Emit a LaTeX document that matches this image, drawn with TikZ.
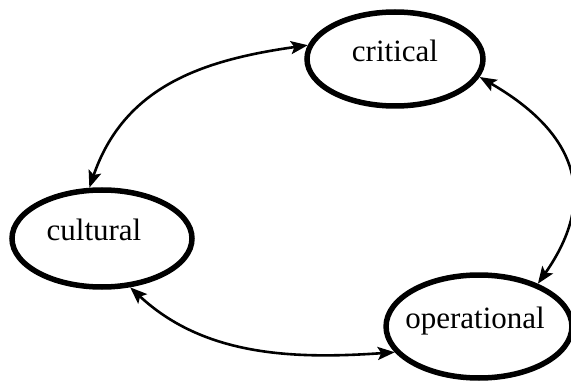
\documentclass[tikz,border=0pt]{standalone}
\usepackage{fontspec}
\setmainfont{Liberation Serif}
\usetikzlibrary{arrows.meta,shapes.geometric}

\tikzset{
  phase/.style={ellipse, draw=black, line width=5.5pt, inner sep=0pt,
    font=\fontsize{31}{36}\selectfont, text height=1ex, text depth=0pt},
  link/.style={line width=2.6pt, {Stealth[length=17pt,width=13pt,inset=3.5pt]}-{Stealth[length=17pt,width=13pt,inset=3.5pt]}}
}

\begin{document}
\begin{tikzpicture}[x=1pt,y=1pt]
  \useasboundingbox (0,0) rectangle (571,381);

  % the three phases
  \node[phase, minimum width=176pt, minimum height=94pt]  (crit) at (395,322)   {critical};
  \node[phase, minimum width=180pt, minimum height=97pt]  (cult) at (102,142.5) {\hspace*{-16pt}cultural};
  \node[phase, minimum width=172pt, minimum height=103pt] (oper) at (479,54.5)  {\hspace*{-8pt}operational};

  % two-way links between them
  \draw[link] (crit.171) to[out=188, in=71, looseness=1.05] (cult.104);
  \draw[link] (cult.300) to[out=-43, in=184, looseness=0.95] (oper.197);
  \draw[link] (crit.348) to[out=-30, in=55, looseness=1.3] (oper.36);
\end{tikzpicture}
\end{document}
